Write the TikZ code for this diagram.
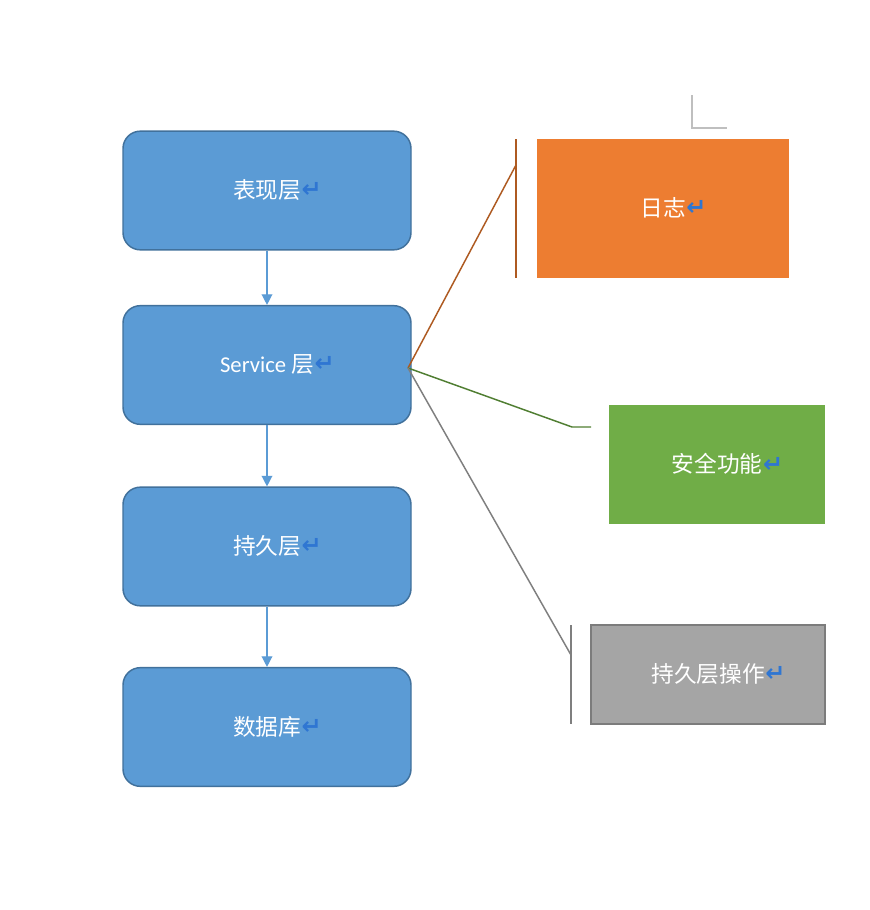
\documentclass[tikz,border=0pt]{standalone}
\usepackage{fontspec}
\usepackage{xcolor}
\setmainfont{Carlito}
\newfontfamily\cjk{Noto Sans CJK SC}
\newfontfamily\symfont{DejaVu Sans}
\usetikzlibrary{arrows.meta}

\definecolor{layerblue}{HTML}{5B9BD5}
\definecolor{layeredge}{HTML}{41719C}
\definecolor{logfill}{HTML}{ED7D31}
\definecolor{logline}{HTML}{AE5A21}
\definecolor{safefill}{HTML}{70AD47}
\definecolor{safeline}{HTML}{507E32}
\definecolor{daofill}{HTML}{A5A5A5}
\definecolor{daoedge}{HTML}{7C7C7C}
\definecolor{daoline}{HTML}{7F7F7F}
\definecolor{markblue}{HTML}{2F76D2}

% paragraph mark hanging after the text
\newcommand{\pmark}{\rlap{\hspace{0.5pt}\raisebox{0.5pt}{\symfont\bfseries\fontsize{18}{18}\selectfont\color{markblue}↵}}}
% lift the label a little inside its box
\newcommand{\lift}[1]{\raisebox{2.2pt}{#1}}

\tikzset{
  layer/.style={draw=layeredge, fill=layerblue, line width=1.1pt, rounded corners=13pt,
    minimum width=216pt, minimum height=89pt, text=white,
    font=\cjk\fontsize{17}{20}\selectfont},
  callbox/.style={inner sep=0pt, text=white, font=\cjk\fontsize{17}{20}\selectfont},
  flow/.style={-{Triangle[length=8pt,width=8pt]}, draw=layerblue, line width=1pt},
  callline/.style={line width=1.1pt}
}

\begin{document}
\begin{tikzpicture}[x=0.75pt, y=-0.75pt]
  \fill[white] (0,0) rectangle (870,910);
  \useasboundingbox (0,0) rectangle (870,910);

  % layers on the left
  \node[layer] (view) at (267,190.5) {\lift{表现层\pmark}};
  \node[layer] (service) at (267,365) {\lift{{\fontspec{Carlito}Service} 层\pmark}};
  \node[layer] (persist) at (267,546.5) {\lift{持久层\pmark}};
  \node[layer] (db) at (267,727) {\lift{数据库\pmark}};

  \draw[flow] (view) -- (service);
  \draw[flow] (service) -- (persist);
  \draw[flow] (persist) -- (db);

  % callout boxes
  \node[callbox, fill=logfill, minimum width=189pt, minimum height=104.25pt] (log) at (663,208.5) {\lift{日志\pmark}};
  \node[callbox, fill=safefill, minimum width=162pt, minimum height=89.25pt] (safe) at (717,464.5) {\lift{安全功能\pmark}};
  \node[callbox, fill=daofill, draw=daoedge, line width=1.1pt, minimum width=175.5pt, minimum height=74.25pt] (dao) at (708,674.5) {\lift{持久层操作\pmark}};

  % callout lines
  \coordinate (tap) at (408,368);
  \coordinate (logtop) at (516,139);
  \coordinate (logbend) at (516,165);
  \coordinate (logbot) at (516,278);
  \coordinate (safebend) at (572,427);
  \coordinate (safeend) at (591,427);
  \coordinate (daotop) at (571,625);
  \coordinate (daobend) at (571,655);
  \coordinate (daobot) at (571,724);

  \draw[callline, logline] (tap) -- (logbend);
  \draw[callline, logline] (logtop) -- (logbot);
  \draw[callline, safeline] (tap) -- (safebend) -- (safeend);
  \draw[callline, daoline] (tap) -- (daobend);
  \draw[callline, daoline] (daotop) -- (daobot);

  % corner mark
  \draw[line width=1.1pt, gray!50] (692,95) -- (692,128) -- (727,128);
\end{tikzpicture}
\end{document}
